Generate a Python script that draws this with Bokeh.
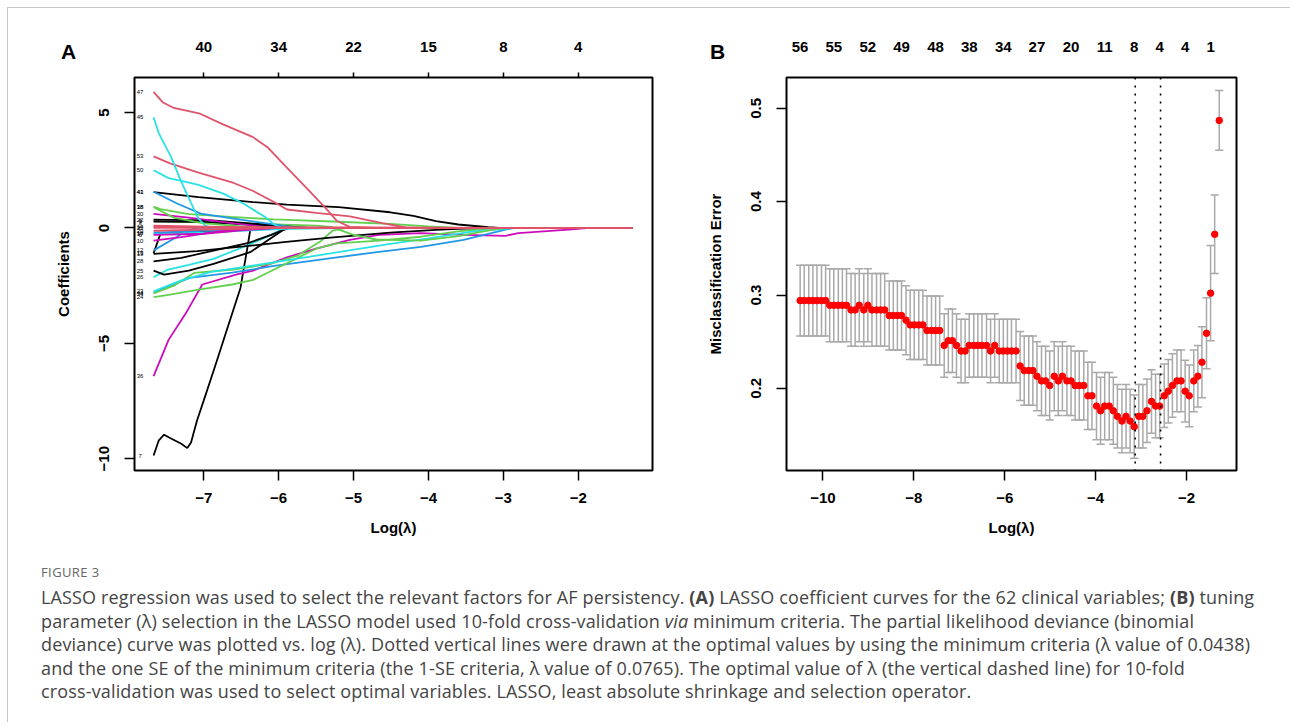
import math
import numpy as np
from bokeh.plotting import figure
from bokeh.models import Range1d, LinearAxis, FixedTicker, Span, Div, ColumnDataSource
from bokeh.layouts import column, row
from bokeh.embed import file_html
from bokeh.resources import INLINE
from bokeh.core.properties import value

# ---------------- Panel A: LASSO coefficient paths ----------------
a_bottom_ticks = [-7, -6, -5, -4, -3, -2]
a_top_labels = ["40", "34", "22", "15", "8", "4"]
a_y_ticks = [-10, -5, 0, 5]

p47_x = [-7.67, -7.55, -7.4, -7.05, -6.75, -6.35, -6.15, -5.9, -5.62, -5.36, -5.22, -5.05, -4.7, -1.27]
p47_y = [5.9, 5.45, 5.2, 4.95, 4.5, 3.95, 3.5, 2.65, 1.7, 0.82, 0.3, 0.05, 0, 0]
p45_x = [-7.67, -7.6, -7.44, -7.3, -7.15, -7.07, -6.98, -6.9, -1.27]
p45_y = [4.8, 4.1, 3.1, 2.0, 0.95, 0.4, 0.1, 0, 0]
p53_x = [-7.67, -7.45, -7.07, -6.6, -6.34, -6.05, -5.89, -5.5, -5.05, -4.6, -4.3, -4.1, -1.27]
p53_y = [3.1, 2.8, 2.4, 1.95, 1.6, 1.1, 0.8, 0.65, 0.5, 0.2, 0.02, 0, 0]
p50_x = [-7.67, -7.47, -7.24, -7.07, -6.74, -6.46, -6.17, -6.06, -5.95, -1.27]
p50_y = [2.5, 2.16, 2.0, 1.87, 1.49, 1.04, 0.45, 0.15, 0, 0]
p43_x = [-7.67, -7.35, -7.04, -6.6, -6.11, -5.8, -5.6, -1.27]
p43_y = [1.57, 1.05, 0.62, 0.4, 0.18, 0.03, 0, 0]
p41_x = [-7.67, -7.07, -6.34, -5.89, -5.2, -4.51, -4.2, -3.9, -3.6, -3.2, -3.05, -1.27]
p41_y = [1.55, 1.34, 1.12, 1.01, 0.9, 0.68, 0.52, 0.3, 0.15, 0.03, 0, 0]
p38_x = [-7.67, -7.58, -7.2, -6.64, -6.06, -5.2, -4.51, -4.0, -3.6, -1.27]
p38_y = [0.93, 0.82, 0.6, 0.48, 0.37, 0.27, 0.18, 0.07, 0, 0]
p18_x = [-7.67, -7.4, -7.0, -6.4, -6.0, -1.27]
p18_y = [0.9, 0.45, 0.2, 0.05, 0, 0]
p30_x = [-7.67, -7.2, -6.6, -6.2, -6.0, -1.27]
p30_y = [0.61, 0.45, 0.2, 0.05, 0, 0]
p22_x = [-7.67, -6.9, -6.2, -5.8, -5.6, -1.27]
p22_y = [0.36, 0.33, 0.15, 0.05, 0, 0]
p9_x = [-7.67, -7.0, -6.3, -5.9, -5.8, -1.27]
p9_y = [0.28, 0.26, 0.12, 0.02, 0, 0]
p3_x = [-7.67, -6.5, -5.5, -5.3, -5.0, -4.7, -4.1, -3.6, -3.1, -2.95, -1.27]
p3_y = [0.3, 0.2, 0.1, 0.05, -0.3, -0.5, -0.55, -0.35, -0.05, 0, 0]
p6_x = [-7.67, -7.0, -6.5, -6.0, -1.27]
p6_y = [-0.3, -0.25, -0.1, 0, 0]
p10_x = [-7.67, -7.3, -6.8, -6.3, -1.27]
p10_y = [-0.55, -0.4, -0.15, 0, 0]
p16_x = [-7.67, -6.8, -6.0, -1.27]
p16_y = [-0.2, -0.1, 0, 0]
p17_x = [-7.67, -7.0, -6.0, -5.0, -1.27]
p17_y = [-0.25, -0.2, -0.05, 0, 0]
p12_x = [-7.67, -7.47, -7.24, -7.1, -1.27]
p12_y = [-0.97, -0.6, -0.15, 0, 0]
p13_x = [-7.67, -7.58, -7.0, -6.2, -5.9, -1.27]
p13_y = [-1.1, -0.26, -0.15, -0.05, 0, 0]
p19_x = [-7.67, -7.09, -6.47, -5.9, -5.31, -4.51, -3.9, -3.3, -1.27]
p19_y = [-1.12, -1.0, -0.8, -0.6, -0.42, -0.2, -0.08, 0, 0]
p28_x = [-7.67, -7.3, -6.9, -6.4, -6.1, -5.95, -5.85, -1.27]
p28_y = [-1.45, -1.3, -1.0, -0.65, -0.3, -0.1, 0, 0]
p25_x = [-7.67, -7.53, -7.2, -6.87, -6.38, -6.02, -5.9, -1.27]
p25_y = [-1.85, -2.02, -1.85, -1.56, -1.05, -0.26, 0, 0]
p26_x = [-7.67, -7.49, -7.2, -6.87, -6.42, -6.1, -5.95, -5.85, -1.27]
p26_y = [-2.13, -1.82, -1.6, -1.34, -0.76, -0.3, -0.05, 0, 0]
p23_x = [-7.67, -7.31, -6.9, -6.2, -5.6, -4.51, -4.0, -3.4, -2.9, -2.8, -1.27]
p23_y = [-2.75, -2.28, -1.9, -1.56, -1.25, -0.69, -0.45, -0.15, -0.02, 0, 0]
p34_x = [-7.67, -7.4, -7.13, -6.6, -6.1, -5.75, -5.45, -5.28, -5.1, -1.27]
p34_y = [-2.84, -2.5, -1.95, -1.8, -1.55, -1.2, -0.6, -0.12, 0, 0]
p24_x = [-7.67, -7.47, -7.07, -6.62, -6.34, -6.06, -5.78, -5.5, -5.22, -4.66, -4.1, -3.53, -3.0, -1.27]
p24_y = [-3.0, -2.9, -2.67, -2.45, -2.25, -1.8, -1.35, -0.9, -0.67, -0.55, -0.38, -0.12, 0, 0]
p44_x = [-7.67, -7.19, -6.62, -6.06, -5.22, -4.66, -4.1, -3.53, -2.97, -2.85, -1.27]
p44_y = [-2.8, -2.16, -1.94, -1.64, -1.27, -1.04, -0.82, -0.52, -0.07, 0, 0]
p36_x = [-7.67, -7.47, -7.24, -7.02, -6.57, -6.34, -5.89, -5.5, -5.05, -4.66, -4.1, -3.53, -2.97, -2.8, -2.13, -1.85, -1.27]
p36_y = [-6.42, -4.85, -3.7, -2.45, -2.02, -1.85, -1.27, -0.9, -0.52, -0.3, -0.22, -0.3, -0.34, -0.22, -0.07, 0, 0]
p7_x = [-7.67, -7.6, -7.53, -7.45, -7.3, -7.22, -7.17, -7.09, -7.0, -6.85, -6.7, -6.51, -6.42, -6.38, -6.36, -1.27]
p7_y = [-9.86, -9.2, -8.96, -9.1, -9.35, -9.54, -9.3, -8.34, -7.47, -6.0, -4.5, -2.6, -0.9, -0.1, 0, 0]
p2_x = [-7.67, -6.8, -6.0, -1.27]
p2_y = [0.1, 0.05, 0, 0]
p14_x = [-7.67, -6.0, -4.0, -3.0, -1.27]
p14_y = [0.05, 0.03, 0.01, 0, 0]
p20_x = [-7.67, -6.8, -6.0, -1.27]
p20_y = [-0.12, -0.06, 0, 0]
p32_x = [-7.67, -4.4, -1.27]
p32_y = [0.0, 0.0, 0.0]

BLACK, RED, GREEN, BLUE, CYAN, MAGENTA = "#000000", "#DF536B", "#61D04F", "#2297E6", "#28E2E5", "#CD0BBC"

a_curves = [
    ("7", BLACK, p7_x, p7_y), ("36", MAGENTA, p36_x, p36_y), ("44", BLUE, p44_x, p44_y),
    ("24", GREEN, p24_x, p24_y), ("34", GREEN, p34_x, p34_y), ("23", CYAN, p23_x, p23_y),
    ("26", CYAN, p26_x, p26_y), ("25", BLACK, p25_x, p25_y), ("28", BLACK, p28_x, p28_y),
    ("19", BLACK, p19_x, p19_y), ("13", BLACK, p13_x, p13_y), ("12", BLUE, p12_x, p12_y),
    ("17", CYAN, p17_x, p17_y), ("16", BLUE, p16_x, p16_y), ("10", MAGENTA, p10_x, p10_y),
    ("6", MAGENTA, p6_x, p6_y), ("3", GREEN, p3_x, p3_y), ("9", BLACK, p9_x, p9_y),
    ("22", BLACK, p22_x, p22_y), ("30", MAGENTA, p30_x, p30_y), ("18", GREEN, p18_x, p18_y),
    ("38", GREEN, p38_x, p38_y), ("41", BLACK, p41_x, p41_y), ("43", BLUE, p43_x, p43_y),
    ("50", CYAN, p50_x, p50_y), ("53", RED, p53_x, p53_y), ("45", CYAN, p45_x, p45_y),
    ("47", RED, p47_x, p47_y), ("14", RED, p14_x, p14_y), ("20", RED, p20_x, p20_y),
    ("2", RED, p2_x, p2_y), ("32", RED, p32_x, p32_y),
]

# ---------------- Panel B: 10-fold CV misclassification error ----------------
log_lambda = [
    -10.50, -10.41, -10.31, -10.22, -10.13, -10.03, -9.94, -9.85, -9.76, -9.66,
    -9.57, -9.48, -9.38, -9.29, -9.20, -9.10, -9.01, -8.92, -8.82, -8.73,
    -8.64, -8.54, -8.45, -8.36, -8.27, -8.17, -8.08, -7.99, -7.89, -7.80,
    -7.71, -7.61, -7.52, -7.43, -7.33, -7.24, -7.15, -7.06, -6.96, -6.87,
    -6.78, -6.68, -6.59, -6.50, -6.40, -6.31, -6.22, -6.12, -6.03, -5.94,
    -5.85, -5.75, -5.66, -5.57, -5.47, -5.38, -5.29, -5.19, -5.10, -5.01,
    -4.91, -4.82, -4.73, -4.63, -4.54, -4.45, -4.36, -4.26, -4.17, -4.08,
    -3.98, -3.89, -3.80, -3.70, -3.61, -3.52, -3.42, -3.33, -3.24, -3.15,
    -3.05, -2.96, -2.87, -2.77, -2.68, -2.59, -2.49, -2.40, -2.31, -2.21,
    -2.12, -2.03, -1.94, -1.84, -1.75, -1.66, -1.56, -1.47, -1.38, -1.28,
]
cv_error = [
    0.294, 0.294, 0.294, 0.294, 0.294, 0.294, 0.294, 0.289, 0.289, 0.289,
    0.289, 0.289, 0.284, 0.284, 0.289, 0.284, 0.289, 0.284, 0.284, 0.284,
    0.284, 0.278, 0.278, 0.278, 0.278, 0.273, 0.268, 0.268, 0.268, 0.268,
    0.262, 0.262, 0.262, 0.262, 0.246, 0.251, 0.251, 0.246, 0.240, 0.240,
    0.246, 0.246, 0.246, 0.246, 0.246, 0.240, 0.246, 0.240, 0.240, 0.240,
    0.240, 0.240, 0.224, 0.219, 0.219, 0.219, 0.213, 0.208, 0.208, 0.203,
    0.213, 0.208, 0.213, 0.208, 0.208, 0.203, 0.203, 0.203, 0.192, 0.192,
    0.181, 0.176, 0.181, 0.181, 0.176, 0.170, 0.165, 0.170, 0.165, 0.159,
    0.170, 0.170, 0.176, 0.186, 0.181, 0.181, 0.192, 0.197, 0.203, 0.208,
    0.208, 0.197, 0.192, 0.208, 0.213, 0.228, 0.259, 0.302, 0.365, 0.487,
]
cv_se = [
    0.038, 0.038, 0.038, 0.038, 0.038, 0.038, 0.038, 0.039, 0.039, 0.039,
    0.039, 0.039, 0.039, 0.039, 0.039, 0.039, 0.039, 0.039, 0.039, 0.039,
    0.039, 0.037, 0.037, 0.037, 0.037, 0.037, 0.037, 0.037, 0.037, 0.037,
    0.037, 0.037, 0.037, 0.037, 0.034, 0.034, 0.034, 0.034, 0.034, 0.034,
    0.034, 0.034, 0.034, 0.034, 0.034, 0.034, 0.034, 0.034, 0.034, 0.034,
    0.034, 0.034, 0.037, 0.037, 0.037, 0.037, 0.037, 0.037, 0.037, 0.037,
    0.037, 0.037, 0.037, 0.037, 0.037, 0.037, 0.037, 0.037, 0.036, 0.036,
    0.036, 0.036, 0.036, 0.036, 0.036, 0.034, 0.034, 0.034, 0.034, 0.034,
    0.034, 0.034, 0.034, 0.034, 0.034, 0.034, 0.034, 0.034, 0.034, 0.033,
    0.033, 0.033, 0.033, 0.033, 0.033, 0.038, 0.038, 0.051, 0.042, 0.032,
]
b_top_index = [0, 8, 16, 24, 32, 40, 48, 56, 64, 72, 79, 85, 91, 97]
b_top_labels = ["56", "55", "52", "49", "48", "38", "34", "27", "20", "11", "8", "4", "4", "1"]
b_bottom_ticks = [-10, -8, -6, -4, -2]
b_y_ticks = [0.2, 0.3, 0.4, 0.5]
lambda_min = 0.0438
lambda_1se = 0.0765

panel_letters = ["A", "B"]
caption_head = "FIGURE 3"
caption_lines = [
    "LASSO regression was used to select the relevant factors for AF persistency. <b>(A)</b> LASSO coefficient curves for the 62 clinical variables; <b>(B)</b> tuning",
    "parameter (λ) selection in the LASSO model used 10-fold cross-validation <i>via</i> minimum criteria. The partial likelihood deviance (binomial",
    "deviance) curve was plotted vs. log (λ). Dotted vertical lines were drawn at the optimal values by using the minimum criteria (λ value of 0.0438)",
    "and the one SE of the minimum criteria (the 1-SE criteria, λ value of 0.0765). The optimal value of λ (the vertical dashed line) for 10-fold",
    "cross-validation was used to select optimal variables. LASSO, least absolute shrinkage and selection operator.",
]

FONT = "Liberation Sans"


def style_axes(p):
    for ax in p.xaxis + p.yaxis:
        ax.axis_line_color = None
        ax.major_tick_line_color = "black"
        ax.major_tick_line_width = 1.5
        ax.major_tick_out = 10
        ax.major_tick_in = 0
        ax.minor_tick_line_color = None
        ax.major_label_text_font = FONT
        ax.major_label_text_font_style = "bold"
        ax.major_label_text_font_size = "15px"
        ax.major_label_text_color = "black"
        ax.axis_label_text_font = FONT
        ax.axis_label_text_font_style = "bold"
        ax.axis_label_text_font_size = "15px"
        ax.axis_label_text_color = "black"
    for ax in p.yaxis:
        ax.major_label_orientation = "vertical"
        ax.major_label_standoff = 15
        ax.axis_label_standoff = 25
    for ax in p.xaxis:
        ax.major_label_standoff = 12
        ax.axis_label_standoff = 13
    p.grid.visible = False
    p.outline_line_color = "black"
    p.outline_line_width = 2
    p.background_fill_color = "white"
    p.border_fill_color = "white"


def letter_div(text, left, top):
    return Div(text='<span style="font-family:\'Liberation Sans\'; font-weight:bold; '
                    'font-size:21px; line-height:24px; color:black;">' + text + '</span>',
               styles={"position": "absolute", "left": f"{left}px", "top": f"{top}px"})


# ---- figure A ----
pA = figure(width=693, height=546, output_backend="svg", toolbar_location=None,
            x_range=Range1d(-7.925, -1.008), y_range=Range1d(-10.51, 6.52),
            min_border_left=126, min_border_right=49, min_border_top=69, min_border_bottom=84)
pA.xaxis.ticker = FixedTicker(ticks=a_bottom_ticks)
pA.yaxis.ticker = FixedTicker(ticks=a_y_ticks)
pA.xaxis.axis_label = "Log(λ)"
pA.yaxis.axis_label = "Coefficients"
topA = LinearAxis(ticker=FixedTicker(ticks=a_bottom_ticks),
                  major_label_overrides={t: l for t, l in zip(a_bottom_ticks, a_top_labels)})
pA.add_layout(topA, "above")
style_axes(pA)
topA.major_tick_out = 5
topA.major_label_standoff = 21

for name, col, xs, ys in a_curves:
    pA.line(xs, ys, line_color=col, line_width=1.8)

lab_src = ColumnDataSource(dict(x=[c[2][0] - 0.18 for c in a_curves],
                                y=[c[3][0] for c in a_curves],
                                t=[c[0] for c in a_curves]))
pA.text(x="x", y="y", text="t", source=lab_src, text_font=value(FONT), text_font_size="6px",
        text_color="black", text_align="center", text_baseline="middle")

# ---- figure B ----
pB = figure(width=581, height=546, output_backend="svg", toolbar_location=None,
            x_range=Range1d(-10.80, -0.90), y_range=Range1d(0.112, 0.533),
            min_border_left=85, min_border_right=46, min_border_top=69, min_border_bottom=84)
pB.xaxis.ticker = FixedTicker(ticks=b_bottom_ticks)
pB.yaxis.ticker = FixedTicker(ticks=b_y_ticks)
pB.xaxis.axis_label = "Log(λ)"
pB.yaxis.axis_label = "Misclassification Error"
b_top_pos = [log_lambda[i] for i in b_top_index]
topB = LinearAxis(ticker=FixedTicker(ticks=b_top_pos),
                  major_label_overrides={t: l for t, l in zip(b_top_pos, b_top_labels)})
pB.add_layout(topB, "above")
style_axes(pB)
topB.major_tick_out = 0
topB.major_tick_line_color = None
topB.major_label_standoff = 26

xb = np.array(log_lambda)
mb = np.array(cv_error)
sb = np.array(cv_se)
cap = 0.09
src = ColumnDataSource(dict(x=xb, m=mb, lo=mb - sb, up=mb + sb, xl=xb - cap, xr=xb + cap))
pB.segment(x0="x", y0="lo", x1="x", y1="up", source=src, line_color="#A9A9A9", line_width=1.5)
pB.segment(x0="xl", y0="up", x1="xr", y1="up", source=src, line_color="#A9A9A9", line_width=1.5)
pB.segment(x0="xl", y0="lo", x1="xr", y1="lo", source=src, line_color="#A9A9A9", line_width=1.5)
pB.scatter(x="x", y="m", source=src, size=6.5, fill_color="red", line_color="red")
for lam in (lambda_min, lambda_1se):
    pB.add_layout(Span(location=math.log(lam), dimension="height", line_color="black",
                       line_dash="2 6", line_width=1.6))

letterA = letter_div(panel_letters[0], 48, 27)
letterB = letter_div(panel_letters[1], 697, 27)

# ---- caption ----
cap_html = (
    '<div style="padding:5px 0 0 28px; font-family:\'Open Sans\', sans-serif; white-space:nowrap;">'
    '<div style="font-size:13px; line-height:16px; color:#666; letter-spacing:0.4px;">' + caption_head + '</div>'
    '<div style="font-size:18px; line-height:23.5px; color:#444; margin-top:6px; letter-spacing:0.15px;">'
    + "<br>".join(caption_lines) + '</div></div>'
)
caption = Div(text=cap_html, width=1272, height=158)

layout = column(row(pA, pB, spacing=0), caption, letterA, letterB, spacing=0,
                styles={"margin-left": "7px", "margin-top": "7px", "position": "relative",
                        "border-top": "1px solid #c8c8c8", "border-left": "1px solid #c8c8c8"})

open("out.html", "w").write(file_html(layout, INLINE))
